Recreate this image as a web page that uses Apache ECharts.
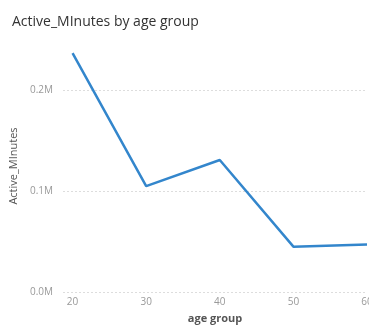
<!DOCTYPE html>
<html>
<head>
<meta charset="utf-8">
<script src="https://cdn.jsdelivr.net/npm/echarts@6/dist/echarts.min.js"></script>
<style>
  html, body { margin: 0; padding: 0; background: #fff; }
  #chart { width: 369px; height: 326px; }
</style>
</head>
<body>
<div id="chart"></div>
<script>
// Active minutes summed per age group
const ageGroups = [20, 30, 40, 50, 60];
const activeMinutes = [237000, 105000, 131000, 45000, 47000];
const xTicks = [20, 30, 40, 50, 60];
const yTicks = [0, 100000, 200000];

const chart = echarts.init(document.getElementById('chart'), null, { renderer: 'canvas' });

const fontFamily = '"Open Sans", "DejaVu Sans", sans-serif';

chart.setOption({
  animation: false,
  title: {
    text: 'Active_MInutes by age group',
    left: 7,
    top: 10,
    textStyle: { fontFamily, fontSize: 14, fontWeight: 'normal', color: '#333' }
  },
  grid: { left: 63, right: 2, top: 40, bottom: 34, containLabel: false, outerBoundsMode: 'none' },
  xAxis: {
    type: 'value',
    min: 18.7,
    max: 60,
    name: 'age group',
    nameLocation: 'middle',
    nameGap: 21,
    nameTextStyle: { fontFamily, fontSize: 11, color: '#555', fontWeight: 'bold' },
    axisLine: { show: false },
    axisTick: { show: false },
    splitLine: { show: false },
    axisLabel: {
      customValues: xTicks,
      fontFamily, fontSize: 10, color: '#999', margin: 5
    }
  },
  yAxis: {
    type: 'value',
    min: 0,
    max: 250000,
    interval: 100000,
    name: 'Active_MInutes',
    nameLocation: 'middle',
    nameGap: 33,
    nameTextStyle: { fontFamily, fontSize: 11, color: '#555' },
    axisLine: { show: false },
    axisTick: { show: false },
    axisLabel: {
      customValues: yTicks,
      fontFamily, fontSize: 10, color: '#999', margin: 10,
      formatter: v => (v / 1e6).toFixed(1) + 'M'
    },
    splitLine: {
      showMaxLine: false,
      lineStyle: { color: '#ddd', type: [2, 2], width: 1 }
    }
  },
  series: [{
    type: 'line',
    data: ageGroups.map((a, i) => [a, activeMinutes[i]]),
    symbol: 'none',
    lineStyle: { color: '#3386cc', width: 2.5 },
    clip: false
  }]
});
</script>
</body>
</html>
